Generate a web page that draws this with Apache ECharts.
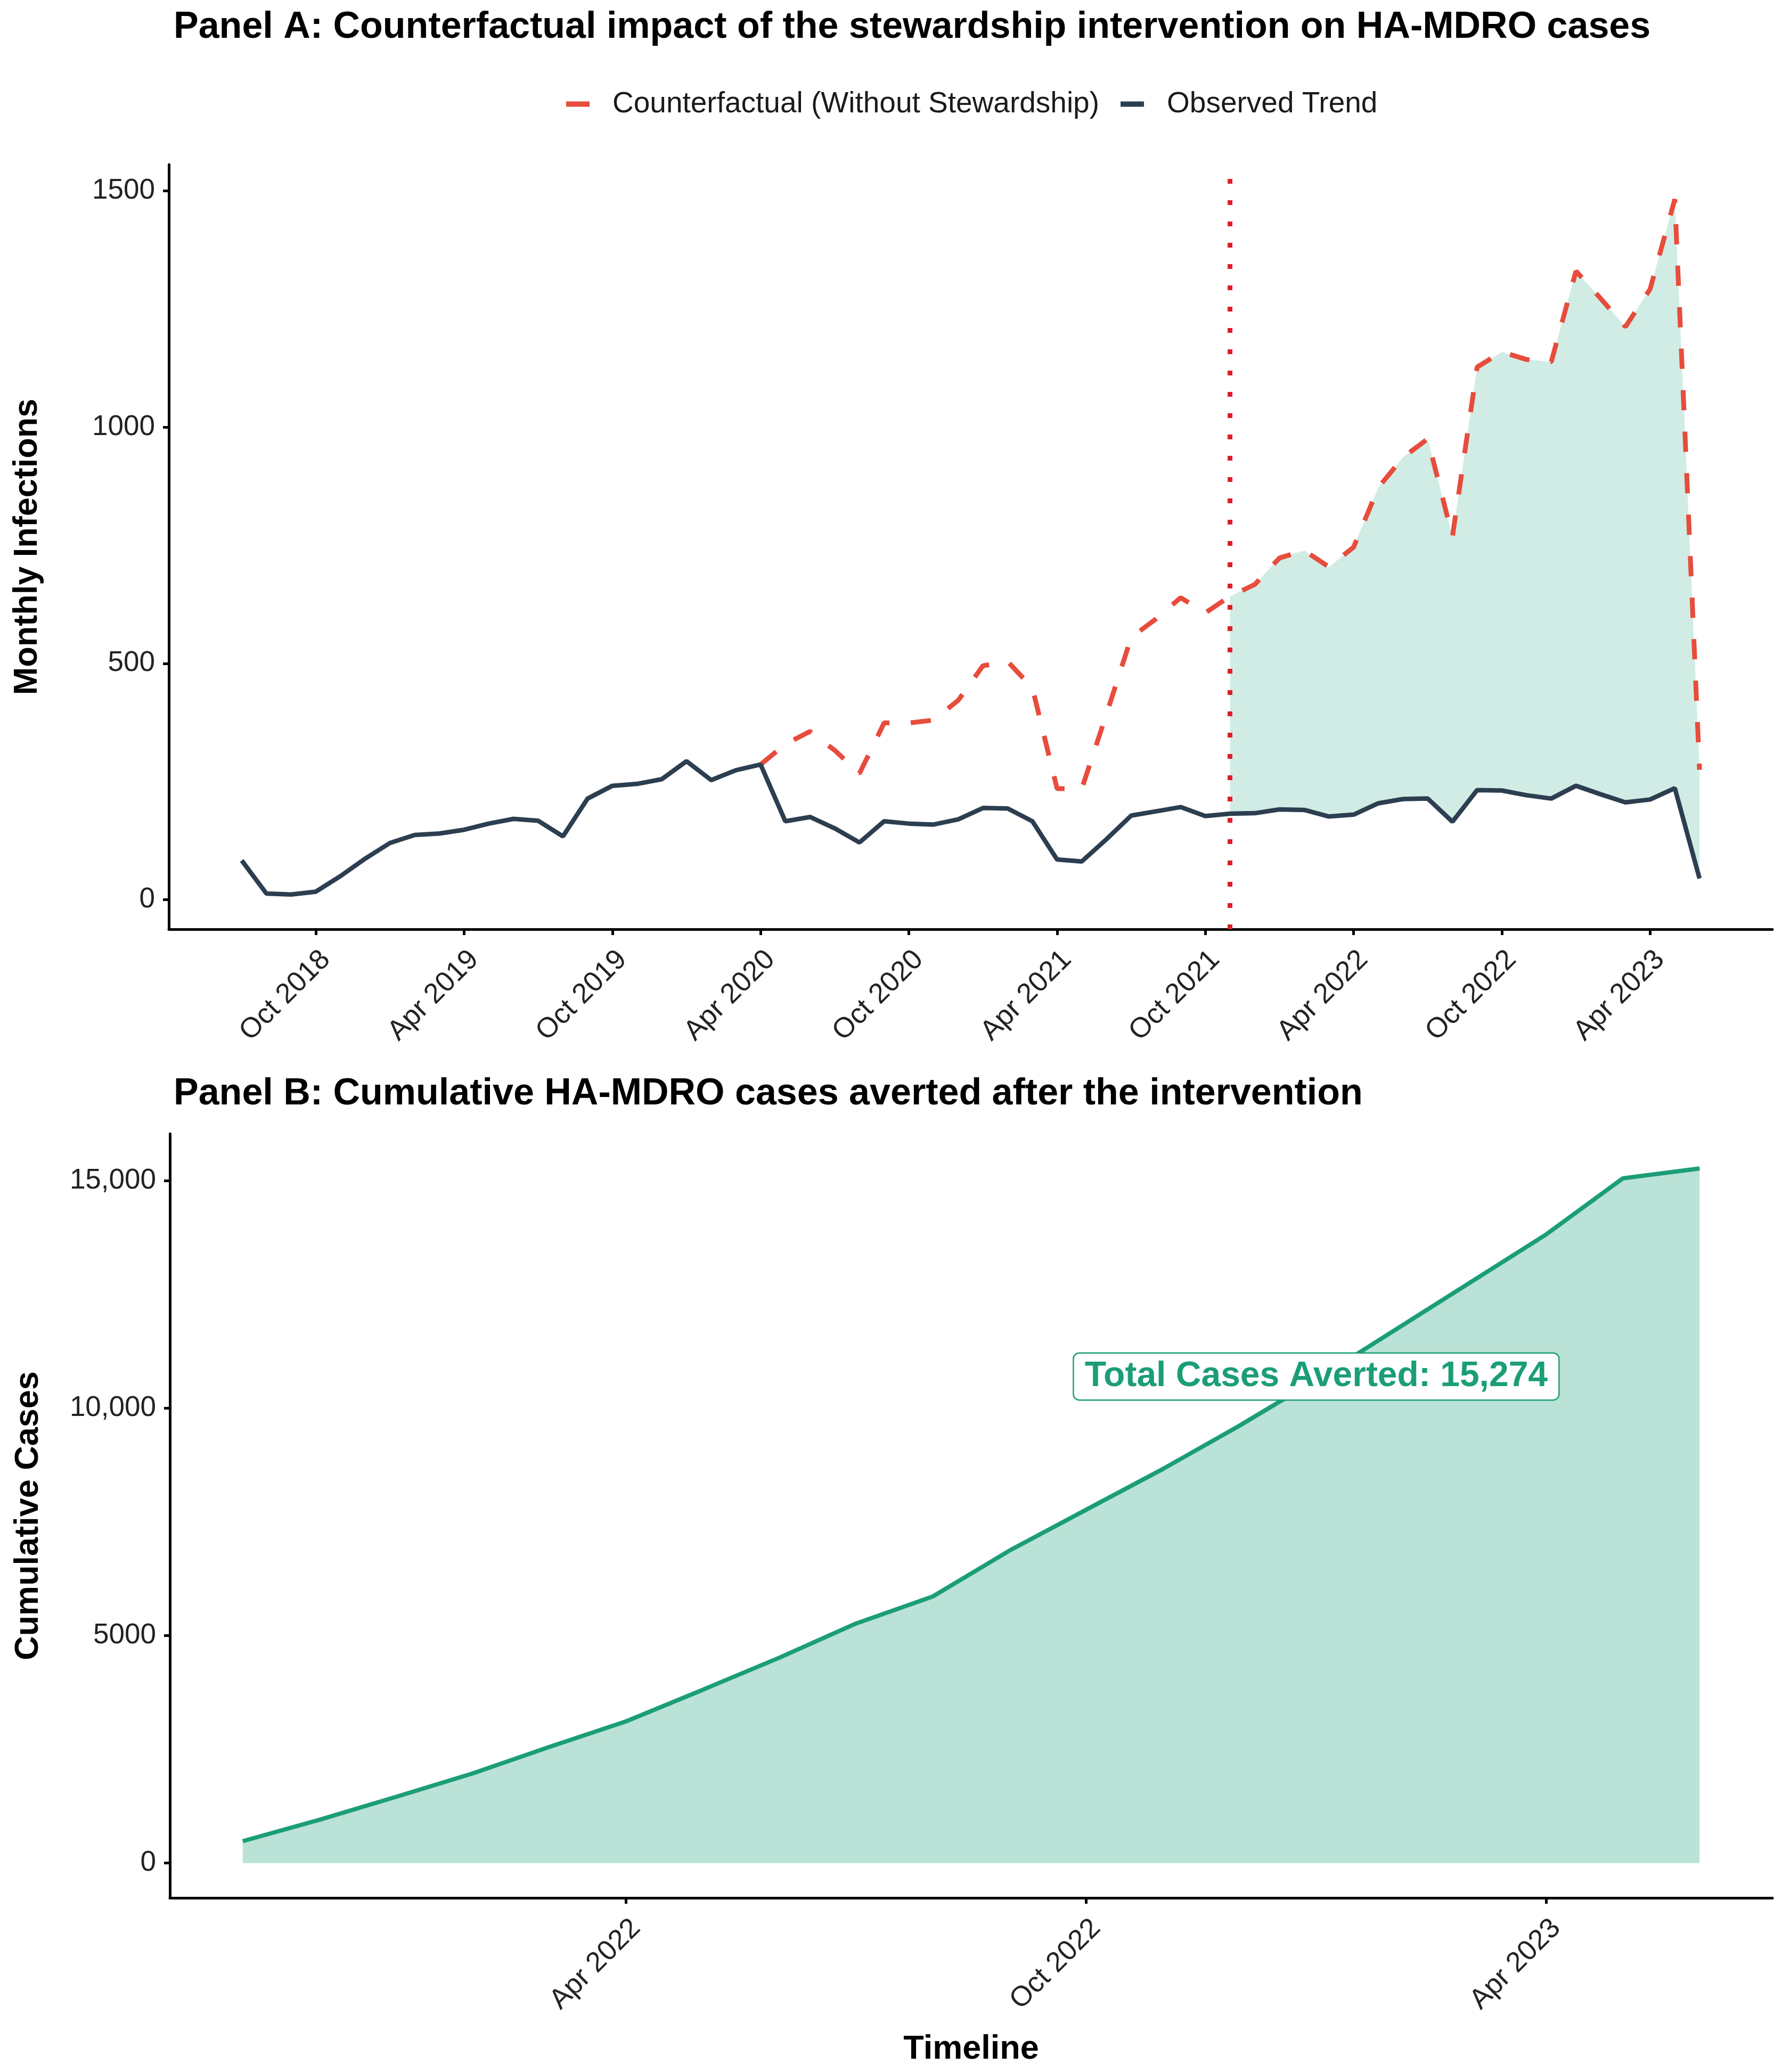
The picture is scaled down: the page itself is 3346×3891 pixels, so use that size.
<!DOCTYPE html>
<html>
<head>
<meta charset="utf-8">
<title>HA-MDRO stewardship counterfactual</title>
<script src="https://cdn.jsdelivr.net/npm/echarts@6/dist/echarts.min.js"></script>
<style>
    html, body { margin: 0; padding: 0; background: #fff; }
    #chart { width: 3346px; height: 3891px; }
</style>
</head>
<body>
<div id="chart"></div>
<script>
// monthly timeline, Jul 2018 .. Jun 2023
var months = [
    'Jul 2018', 'Aug 2018', 'Sep 2018', 'Oct 2018', 'Nov 2018', 'Dec 2018',
    'Jan 2019', 'Feb 2019', 'Mar 2019', 'Apr 2019', 'May 2019', 'Jun 2019',
    'Jul 2019', 'Aug 2019', 'Sep 2019', 'Oct 2019', 'Nov 2019', 'Dec 2019',
    'Jan 2020', 'Feb 2020', 'Mar 2020', 'Apr 2020', 'May 2020', 'Jun 2020',
    'Jul 2020', 'Aug 2020', 'Sep 2020', 'Oct 2020', 'Nov 2020', 'Dec 2020',
    'Jan 2021', 'Feb 2021', 'Mar 2021', 'Apr 2021', 'May 2021', 'Jun 2021',
    'Jul 2021', 'Aug 2021', 'Sep 2021', 'Oct 2021', 'Nov 2021', 'Dec 2021',
    'Jan 2022', 'Feb 2022', 'Mar 2022', 'Apr 2022', 'May 2022', 'Jun 2022',
    'Jul 2022', 'Aug 2022', 'Sep 2022', 'Oct 2022', 'Nov 2022', 'Dec 2022',
    'Jan 2023', 'Feb 2023', 'Mar 2023', 'Apr 2023', 'May 2023', 'Jun 2023'
];

var observed = [
    83, 13, 11, 17, 50, 87, 120, 137, 140, 148, 161, 171,
    167, 134, 214, 241, 245, 255, 293, 253, 274, 286, 166, 175,
    151, 121, 166, 161, 159, 170, 194, 193, 166, 85, 81, 128,
    178, 187, 196, 177, 182, 183, 191, 190, 176, 180, 204, 213,
    214, 165, 232, 231, 221, 214, 241, 223, 206, 212, 236, 45
];

// counterfactual starts in Apr 2020
var counterfactualStart = 'Apr 2020';
var counterfactual = [
    286, 329, 356, 316, 267, 374, 374, 380, 422,
    495, 504, 448, 235, 235, 393, 555, 594, 639, 607, 642, 667,
    723, 739, 704, 746, 872, 936, 975, 768, 1127, 1159, 1143, 1138,
    1330, 1272, 1212, 1292, 1482, 275
];

var interventionMonth = 'Nov 2021';

// cumulative cases averted, Nov 2021 .. Jun 2023
var cumulativeAverted = [
    483, 953, 1458, 1973, 2556, 3117, 3812, 4518, 5270, 5863,
    6872, 7770, 8666, 9619, 10628, 11693, 12759, 13824, 15057, 15274
];

var panelATicks = ['Oct 2018', 'Apr 2019', 'Oct 2019', 'Apr 2020', 'Oct 2020',
    'Apr 2021', 'Oct 2021', 'Apr 2022', 'Oct 2022', 'Apr 2023'];
var panelBTicks = ['Apr 2022', 'Oct 2022', 'Apr 2023'];
var panelAYTicks = [0, 500, 1000, 1500];
var panelBYTicks = [0, 5000, 10000, 15000];
var panelBYLabels = ['0', '5000', '10,000', '15,000'];

var annotMonth = 'Jan 2023';
var annotValue = 10700;
var annotText = 'Total Cases Averted: 15,274';

var FONT = 'Liberation Sans';
var TEAL = '#1b9e77';

var cfStart = months.indexOf(counterfactualStart);
var interventionIdx = months.indexOf(interventionMonth);
var postMonths = months.slice(interventionIdx);

var observedData = observed.map(function (v, i) { return [i, v]; });
var cfData = counterfactual.map(function (v, i) { return [cfStart + i, v]; });
var cumData = cumulativeAverted.map(function (v, i) { return [i, v]; });

function idxOf(list, names) {
    return names.map(function (n) { return list.indexOf(n); });
}

// shaded gap between counterfactual and observed after the intervention
function renderGap(params, api) {
    var top = [], bottom = [];
    for (var i = interventionIdx; i < months.length; i++) {
        top.push(api.coord([i, counterfactual[i - cfStart]]));
        bottom.unshift(api.coord([i, observed[i]]));
    }
    return {
        type: 'polygon',
        shape: {points: top.concat(bottom)},
        style: {fill: '#d1ece4'}
    };
}

var axisLineStyle = {show: true, onZero: false, lineStyle: {color: '#000', width: 5}};
var tickText = {fontFamily: FONT, fontSize: 53, color: '#222'};
var nameText = {fontFamily: FONT, fontSize: 63, fontWeight: 'bold', color: '#000'};
var titleText = {fontFamily: FONT, fontSize: 70, fontWeight: 'bold', color: '#000'};

function xAxisFor(gridIndex, list, ticks, min, max, extra) {
    var ax = {
        type: 'value',
        gridIndex: gridIndex,
        min: min,
        max: max,
        axisLine: axisLineStyle,
        axisTick: {show: true, length: 11, lineStyle: {color: '#000', width: 5},
            customValues: idxOf(list, ticks)},
        axisLabel: Object.assign({
            customValues: idxOf(list, ticks),
            rotate: 45,
            margin: 30,
            verticalAlign: 'top',
            formatter: function (v) { return list[Math.round(v)]; }
        }, tickText),
        splitLine: {show: false}
    };
    return Object.assign(ax, extra || {});
}

var option = {
    backgroundColor: '#fff',
    animation: false,
    title: [
        {
            text: 'Panel A: Counterfactual impact of the stewardship intervention on HA-MDRO cases',
            left: 321, top: 12,
            textStyle: titleText
        },
        {
            text: 'Panel B: Cumulative HA-MDRO cases averted after the intervention',
            left: 321, top: 2015,
            textStyle: titleText
        }
    ],
    legend: {
        data: [
            {name: 'Counterfactual (Without Stewardship)', icon: 'rect', itemStyle: {color: '#e74c3c'}},
            {name: 'Observed Trend', icon: 'rect', itemStyle: {color: '#2c3e50'}}
        ],
        left: 1058, top: 163,
        itemWidth: 44, itemHeight: 10, itemGap: 40,
        textStyle: {fontFamily: FONT, fontSize: 55, color: '#1a1a1a', padding: [0, 0, 0, 38]}
    },
    grid: [
        {left: 317, right: 18, top: 309, height: 1436},
        {left: 319, right: 18, top: 2129, height: 1435}
    ],
    xAxis: [
        xAxisFor(0, months, panelATicks, -2.95, 61.95),
        xAxisFor(1, postMonths, panelBTicks, -0.95, 19.95, {
            name: 'Timeline', nameLocation: 'middle', nameGap: 253, nameTextStyle: nameText
        })
    ],
    yAxis: [
        {
            type: 'value', gridIndex: 0, min: -62.5, max: 1555.5,
            name: 'Monthly Infections', nameLocation: 'middle', nameRotate: 90, nameGap: 234,
            nameTextStyle: nameText,
            axisLine: axisLineStyle,
            axisTick: {show: true, length: 11, lineStyle: {color: '#000', width: 5}, customValues: panelAYTicks},
            axisLabel: Object.assign({
                customValues: panelAYTicks, margin: 26,
                formatter: function (v) { return String(v); }
            }, tickText),
            splitLine: {show: false}
        },
        {
            type: 'value', gridIndex: 1, min: -764, max: 16038,
            name: 'Cumulative Cases', nameLocation: 'middle', nameRotate: 90, nameGap: 234,
            nameTextStyle: nameText,
            axisLine: axisLineStyle,
            axisTick: {show: true, length: 11, lineStyle: {color: '#000', width: 5}, customValues: panelBYTicks},
            axisLabel: Object.assign({
                customValues: panelBYTicks, margin: 26,
                formatter: function (v) { return panelBYLabels[panelBYTicks.indexOf(v)]; }
            }, tickText),
            splitLine: {show: false}
        }
    ],
    series: [
        {
            type: 'custom',
            xAxisIndex: 0, yAxisIndex: 0,
            data: [[interventionIdx, 0]],
            renderItem: renderGap,
            silent: true,
            z: 1
        },
        {
            name: 'Counterfactual (Without Stewardship)',
            type: 'line',
            xAxisIndex: 0, yAxisIndex: 0,
            data: cfData,
            showSymbol: false, symbol: 'none',
            lineStyle: {color: '#e74c3c', width: 9, type: [38, 40]},
            itemStyle: {color: '#e74c3c'},
            z: 3
        },
        {
            name: 'Observed Trend',
            type: 'line',
            xAxisIndex: 0, yAxisIndex: 0,
            data: observedData,
            showSymbol: false, symbol: 'none',
            lineStyle: {color: '#2c3e50', width: 8.5},
            itemStyle: {color: '#2c3e50'},
            z: 4,
            markLine: {
                silent: true,
                symbol: 'none',
                label: {show: false},
                lineStyle: {color: '#dc2029', width: 9, type: [9, 31]},
                data: [{xAxis: interventionIdx}]
            }
        },
        {
            type: 'line',
            xAxisIndex: 1, yAxisIndex: 1,
            data: cumData,
            showSymbol: false, symbol: 'none',
            lineStyle: {color: TEAL, width: 8},
            areaStyle: {color: '#bbe2d6', opacity: 1},
            z: 2
        },
        {
            type: 'scatter',
            xAxisIndex: 1, yAxisIndex: 1,
            data: [[postMonths.indexOf(annotMonth), annotValue]],
            symbolSize: 0,
            itemStyle: {opacity: 1},
            silent: true,
            z: 6,
            label: {
                show: true,
                position: 'inside',
                formatter: annotText,
                fontFamily: FONT, fontSize: 66, fontWeight: 'bold', color: TEAL,
                backgroundColor: '#fff',
                borderColor: TEAL, borderWidth: 2.5, borderRadius: 10,
                padding: [12, 20, 8, 20]
            }
        }
    ]
};

var chart = echarts.init(document.getElementById('chart'));
chart.setOption(option);
</script>
</body>
</html>
